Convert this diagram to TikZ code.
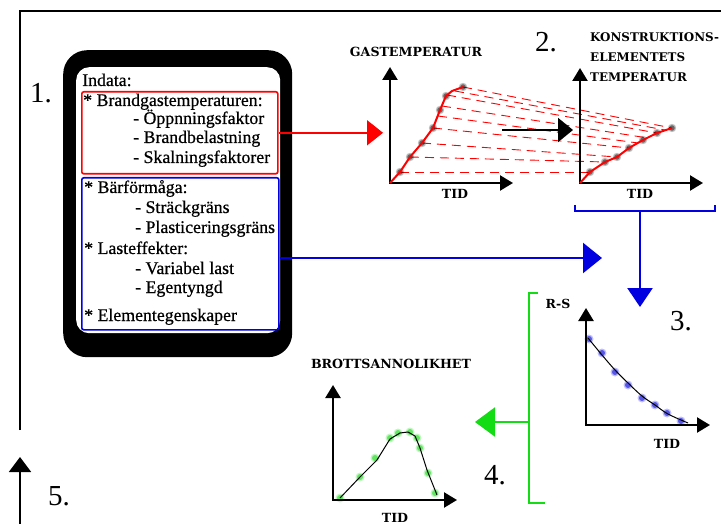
\documentclass[tikz,border=0pt]{standalone}
\usepackage{fontspec}
\setmainfont{DejaVu Serif}
\newfontfamily\numfont{Liberation Serif}
\newfontfamily\bodyfont{Liberation Serif}[FakeBold=0.6]
\usetikzlibrary{arrows.meta}
\definecolor{myred}{RGB}{255,0,0}
\definecolor{myblue}{RGB}{0,0,225}
\definecolor{mygreen}{RGB}{20,220,20}
\begin{document}
\begin{tikzpicture}[x=1pt,y=-1pt,
  num/.style={font=\numfont\fontsize{29}{30}\selectfont, anchor=base west, inner sep=0pt},
  body/.style={font=\bodyfont\fontsize{17.8}{19}\selectfont, anchor=base west, inner sep=0pt},
  ttl/.style={font=\bfseries\fontsize{12.6}{13}\selectfont, anchor=base, inner sep=0pt},
  kttl/.style={font=\bfseries\fontsize{11.9}{13}\selectfont, anchor=base west, inner sep=0pt},
  axis/.style={line width=2.4pt, line join=miter, {Triangle[length=13pt,width=15pt]}-{Triangle[length=13pt,width=15pt]}},
  dsh/.style={myred, line width=0.9pt, dash pattern=on 9pt off 6pt},
  rdot/.style={fill=black, opacity=0.45},
]
\useasboundingbox (0,0) rectangle (721,524);
\fill[white] (0,0) rectangle (721,524);

% frame
\coordinate (f1) at (20,430);
\coordinate (f2) at (20,11);
\coordinate (f3) at (721,11);
\draw[line width=2pt] (f1) -- (f2) -- (f3);
\coordinate (b0) at (20,526);
\coordinate (b1) at (20,457);
\draw[line width=2pt, -{Triangle[length=15pt,width=22pt]}] (b0) -- (b1);

% numbers
\node[num] (n1) at (30,103) {1.};
\node[num] (n2) at (535,52) {2.};
\node[num] (n3) at (670,330) {3.};
\node[num] (n4) at (484,484) {4.};
\node[num] (n5) at (48,505) {5.};

% device box
\node[fill=black, rounded corners=24pt, minimum width=229pt, minimum height=307pt, inner sep=0pt, anchor=north west] (device) at (63,50) {};
\node[fill=white, rounded corners=13pt, minimum width=204pt, minimum height=266pt, inner sep=0pt, anchor=north west] (screen) at (76,67) {};
\node[draw=myred, line width=1.6pt, rounded corners=2pt, minimum width=196pt, minimum height=82pt, inner sep=0pt, anchor=north west] (redbox) at (81,91) {};
\node[draw=myblue, line width=1.6pt, rounded corners=2pt, minimum width=197pt, minimum height=152pt, inner sep=0pt, anchor=north west] (bluebox) at (81,177) {};

\node[body] (t0) at (82,86) {Indata:};
\node[body] (t1) at (83,106) {* Brandgastemperaturen:};
\node[body] (t2) at (133,124) {- Öppnningsfaktor};
\node[body] (t3) at (133,143) {- Brandbelastning};
\node[body] (t4) at (133,163) {- Skalningsfaktorer};
\node[body] (t5) at (84,193) {* Bärförmåga:};
\node[body] (t6) at (135,213) {- Sträckgräns};
\node[body] (t7) at (135,233) {- Plasticeringsgräns};
\node[body] (t8) at (84,254) {* Lasteffekter:};
\node[body] (t9) at (135,274) {- Variabel last};
\node[body] (t10) at (135,293) {- Egentyngd};
\node[body] (t11) at (84,321) {* Elementegenskaper};

% red arrow
\coordinate (redtip) at (383,131);
\draw[myred, line width=2pt, -{Triangle[length=16pt,width=25pt]}] (redbox.east) -- (redbox.east -| redtip);

% blue arrow
\coordinate (bluetip) at (602,258);
\draw[myblue, line width=2.4pt, -{Triangle[length=19pt,width=30pt]}] (bluebox.east |- bluetip) -- (bluetip);

% chart 1
\coordinate (o1) at (390,183);
\coordinate (x1) at (513,183);
\coordinate (y1) at (390,67);
\node[ttl] (g1) at (416,57) {GASTEMPERATUR};
\node[ttl] (tid1) at (455,199) {TID};

% chart 2
\coordinate (o2) at (580,183);
\coordinate (x2) at (703,183);
\coordinate (y2) at (580,68);
\node[kttl] (k1) at (590,42) {KONSTRUKTIONS-};
\node[kttl] (k2) at (590,62) {ELEMENTETS};
\node[kttl] (k3) at (590,82) {TEMPERATUR};
\node[ttl] (tid2) at (640,199) {TID};

% dashed mapping lines
\foreach \a/\b in {{(400,172)}/{(590,172)}, {(410,157)}/{(605,162)}, {(422,143)}/{(617,157)}, {(433,128)}/{(629,148)}, {(438,116)}/{(638,143)}, {(442,106)}/{(648,138)}, {(447,95)}/{(657,133)}, {(455,91)}/{(665,130)}, {(463,87)}/{(672,128)}}
  \draw[dsh] \a -- \b;

% middle black arrow
\coordinate (m0) at (502,130);
\coordinate (m1) at (573,130);
\draw[line width=2pt, -{Triangle[length=15pt,width=24pt]}] (m0) -- (m1);

\draw[axis] (y1) -- (o1) -- (x1);
\draw[axis] (y2) -- (o2) -- (x2);

% curves chart 1 and 2
\foreach \p in {(400,172),(410,157),(422,143),(433,128),(440,110),(446,96),(463,87),(590,172),(605,162),(617,157),(629,148),(643,140),(657,133),(672,128)}
  {\fill[rdot, opacity=0.25] \p circle (4.2pt); \fill[rdot] \p circle (2.8pt);}
\draw[myred, line width=2pt, line join=round] (390,183) -- (400,172) -- (410,157) -- (422,143) -- (433,128) -- (440,110) -- (446,96) -- (452,91) -- (463,87);
\draw[myred, line width=2pt, line join=round] (580,183) -- (590,172) -- (605,162) -- (617,157) -- (629,148) -- (643,140) -- (657,133) -- (672,128);

% blue bracket and down arrow
\coordinate (bb1) at (575,205);
\coordinate (bb2) at (575,211);
\coordinate (bb3) at (715,211);
\coordinate (bb4) at (715,205);
\coordinate (bbc) at (640,211);
\coordinate (bbt) at (640,307);
\draw[myblue, line width=2pt] (bb1) -- (bb2) -- (bb3) -- (bb4);
\draw[myblue, line width=2.4pt, -{Triangle[length=19pt,width=25pt]}] (bbc) -- (bbt);

% chart 3
\coordinate (o3) at (586,425);
\coordinate (x3) at (710,425);
\coordinate (y3) at (586,308);
\node[ttl, font=\bfseries\fontsize{12.5}{13}\selectfont] (rs) at (558,308) {R-S};
\node[ttl] (tid3) at (667,448) {TID};
\foreach \p in {(589,339),(602,353),(615,372),(628,385),(642,398),(655,405),(667,413),(681,421)}
  {\fill[myblue, opacity=0.25] \p circle (4.5pt); \fill[myblue, opacity=0.55] \p circle (3pt);}
\draw[line width=1pt] plot[smooth, tension=0.6] coordinates {(588,338) (602,355) (615,370) (628,383) (642,396) (655,405) (668,414) (688,423)};
\draw[axis] (y3) -- (o3) -- (x3);

% green bracket and arrow
\coordinate (gb1) at (538,293);
\coordinate (gb2) at (529,293);
\coordinate (gb3) at (529,503);
\coordinate (gb4) at (545,503);
\coordinate (gbm) at (529,422);
\coordinate (gbt) at (475,422);
\draw[mygreen, line width=2pt] (gb1) -- (gb2) -- (gb3) -- (gb4);
\draw[mygreen, line width=2.4pt, -{Triangle[length=20pt,width=29pt]}] (gbm) -- (gbt);

% chart 4
\coordinate (o4) at (333,500);
\coordinate (x4) at (457,500);
\coordinate (y4) at (333,385);
\node[ttl] (br) at (391,368) {BROTTSANNOLIKHET};
\node[ttl] (tid4) at (395,522) {TID};
\foreach \p in {(340,498),(360,477),(375,458),(390,438),(398,433),(410,432),(417,438),(420,448),(428,473),(435,493)}
  {\fill[mygreen, opacity=0.25] \p circle (4.5pt); \fill[mygreen, opacity=0.55] \p circle (3pt);}
\draw[line width=1pt, line join=round] (340,498) -- (360,477) -- (377,460) -- (390,439) -- (400,433) -- (408,432) -- (415,436) -- (420,448) -- (427,470) -- (437,495);
\draw[axis] (y4) -- (o4) -- (x4);
\end{tikzpicture}
\end{document}
